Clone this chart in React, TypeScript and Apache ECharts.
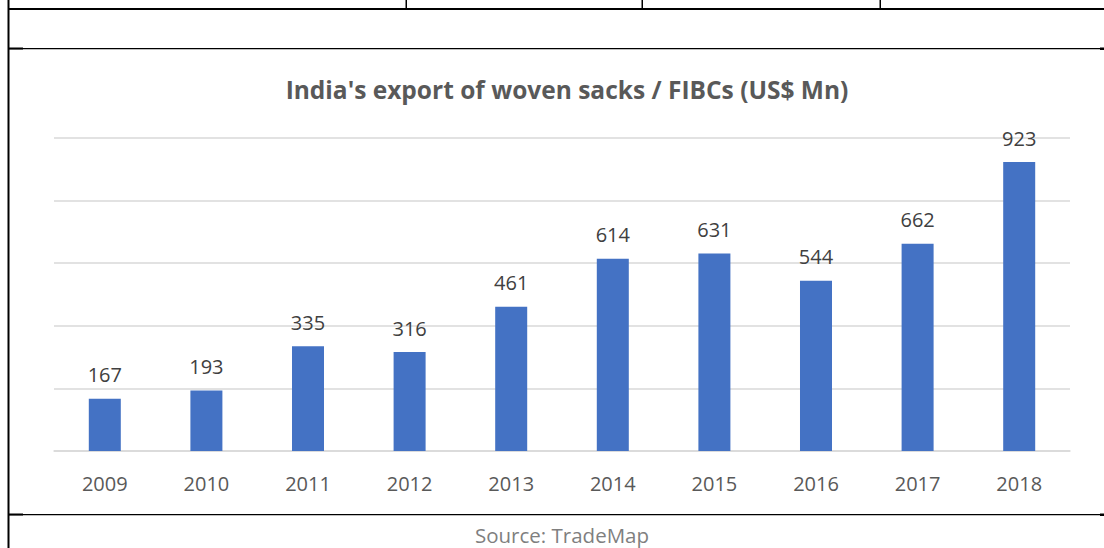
import React, { useEffect, useRef } from "react";
import * as echarts from "echarts";

const years = ["2009", "2010", "2011", "2012", "2013", "2014", "2015", "2016", "2017", "2018"];
const exportsUsdMn = [167, 193, 335, 316, 461, 614, 631, 544, 662, 923];
const titleText = "India's export of woven sacks / FIBCs (US$ Mn)";
const sourceText = "Source: TradeMap";

const FONT = "'Open Sans', 'Noto Sans', sans-serif";

export default function App() {
  const ref = useRef<HTMLDivElement>(null);
  useEffect(() => {
    const chart = echarts.init(ref.current!, null, { renderer: "svg" });
    const black = "#000000";
    chart.setOption({
      animation: false,
      backgroundColor: "#ffffff",
      title: {
        text: titleText,
        left: 562,
        textAlign: "center",
        top: 72,
        textStyle: { fontFamily: FONT, fontSize: 24.5, fontWeight: "bold", color: "#595959" },
      },
      grid: { left: 54, right: 34, top: 138, bottom: 97 },
      xAxis: {
        type: "category",
        data: years,
        axisLine: { lineStyle: { color: "#d9d9d9", width: 1.5 } },
        axisTick: { show: false },
        axisLabel: { fontFamily: FONT, fontSize: 20, color: "#595959", margin: 22 },
      },
      yAxis: {
        type: "value",
        min: 0,
        max: 1000,
        interval: 200,
        axisLabel: { show: false },
        axisLine: { show: false },
        axisTick: { show: false },
        splitLine: { lineStyle: { color: "#d9d9d9", width: 1.5 } },
      },
      series: [
        {
          type: "bar",
          data: exportsUsdMn,
          barWidth: "31.5%",
          itemStyle: { color: "#4472c4" },
          label: {
            show: true,
            position: "top",
            distance: 14,
            fontFamily: FONT,
            fontSize: 20,
            color: "#404040",
          },
        },
      ],
      graphic: [
        { type: "rect", shape: { x: 7.5, y: 0, width: 2, height: 548 }, style: { fill: black } },
        { type: "rect", shape: { x: 8, y: 8, width: 1096, height: 2 }, style: { fill: black } },
        { type: "rect", shape: { x: 405.5, y: 0, width: 1.5, height: 9 }, style: { fill: black } },
        { type: "rect", shape: { x: 641.5, y: 0, width: 1.5, height: 9 }, style: { fill: black } },
        { type: "rect", shape: { x: 879.5, y: 0, width: 1.5, height: 9 }, style: { fill: black } },
        { type: "rect", shape: { x: 9, y: 48, width: 1091, height: 1.2 }, style: { fill: black } },
        { type: "rect", shape: { x: 9, y: 47.5, width: 14, height: 2 }, style: { fill: black } },
        { type: "rect", shape: { x: 1100, y: 47.5, width: 4, height: 2.5 }, style: { fill: black } },
        { type: "rect", shape: { x: 9, y: 514, width: 1091, height: 1.2 }, style: { fill: black } },
        { type: "rect", shape: { x: 9, y: 513.5, width: 14, height: 2 }, style: { fill: black } },
        { type: "rect", shape: { x: 1100, y: 513.5, width: 4, height: 2.5 }, style: { fill: black } },
        {
          type: "text",
          x: 562,
          y: 535,
          style: {
            text: sourceText,
            fontFamily: FONT,
            fontSize: 20.5,
            fill: "#7f7f7f",
            align: "center",
            verticalAlign: "middle",
          },
        },
      ],
    });
    return () => chart.dispose();
  }, []);
  return (
    <div
      ref={ref}
      style={{ position: "absolute", left: 0, top: 0, width: 1104, height: 548 }}
    />
  );
}
